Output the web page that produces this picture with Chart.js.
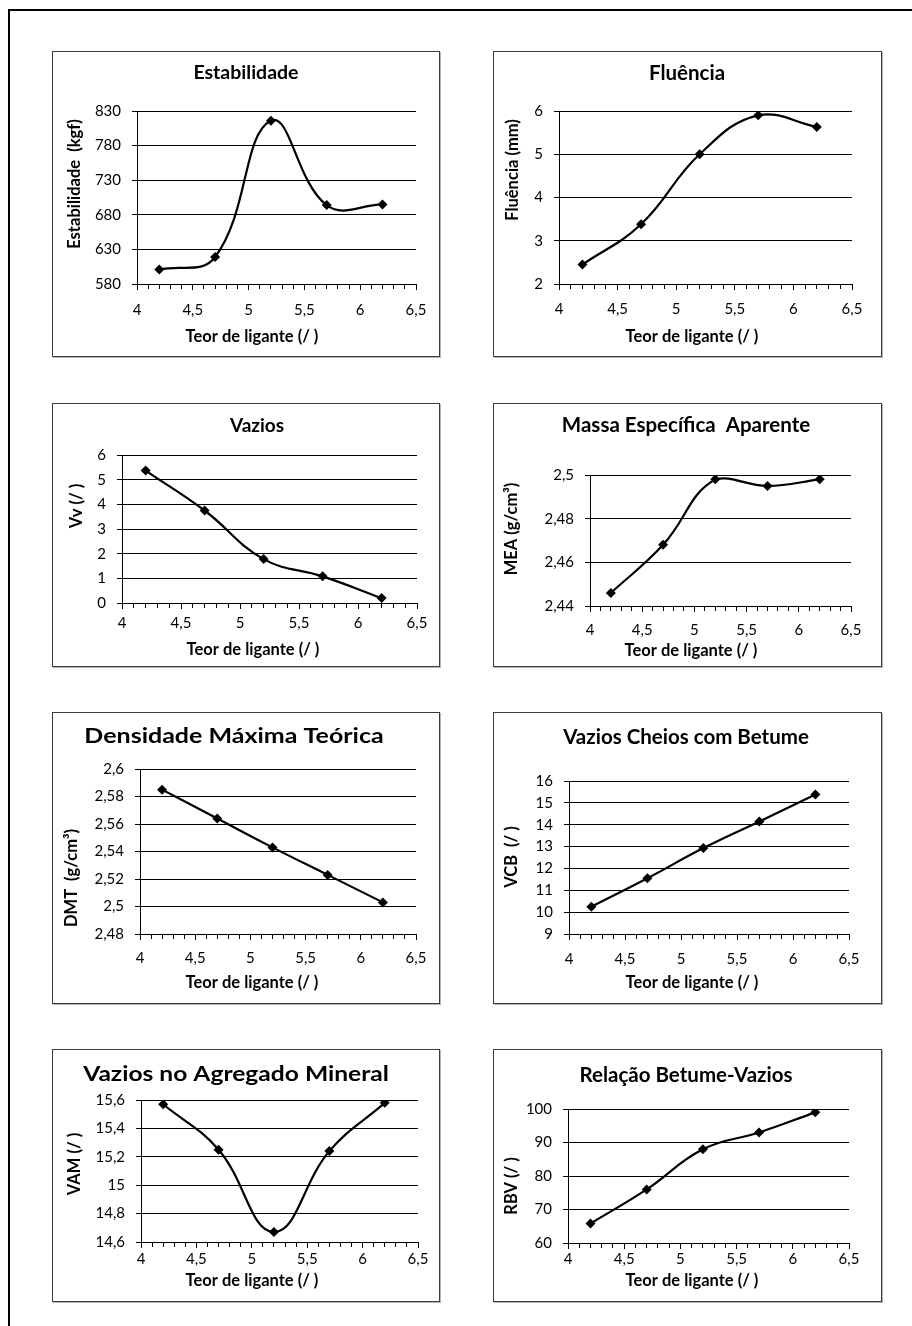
<!DOCTYPE html>
<html>
<head>
<meta charset="utf-8">
<script src="https://cdn.jsdelivr.net/npm/chart.js@4.4.1/dist/chart.umd.min.js"></script>
<style>
  html, body { margin: 0; padding: 0; background: #fff; width: 912px; height: 1326px; overflow: hidden; }
  #frame { position: absolute; left: 8px; top: 9px; width: 1000px; height: 1400px;
           border-left: 2px solid #000; border-top: 2px solid #000; }
  .panel { position: absolute; box-sizing: border-box; border: 1px solid #3c3c3c; background: #fff;
           box-shadow: 1px 1px 0 #b4b4b4; }
  .panel canvas { display: block; }
</style>
</head>
<body>
<div id="frame"></div>
<div id="page"></div>
<script>
// Teor de ligante (%) tested
const teor = [4.2, 4.7, 5.2, 5.7, 6.2];

// Measured properties for each binder content
const estabilidade = [601, 619, 816, 694, 695];
const fluencia     = [2.45, 3.38, 5.0, 5.9, 5.63];
const vaziosVv     = [5.37, 3.75, 1.78, 1.08, 0.2];
const mea          = [2.446, 2.468, 2.498, 2.495, 2.498];
const dmt          = [2.585, 2.564, 2.543, 2.523, 2.503];
const vcb          = [10.25, 11.55, 12.93, 14.15, 15.38];
const vam          = [15.57, 15.25, 14.67, 15.24, 15.58];
const rbv          = [65.8, 76, 88, 93, 99];

// Axis ranges: [min, max, step]
const xRange = [4, 6.5, 0.1];
const yRanges = [
  [580, 830, 50],
  [2, 6, 1],
  [0, 6, 1],
  [2.44, 2.5, 0.02],
  [2.48, 2.6, 0.02],
  [9, 16, 1],
  [14.6, 15.6, 0.2],
  [60, 100, 10]
];

const titles = [
  'Estabilidade', 'Fluência', 'Vazios', 'Massa Específica  Aparente',
  'Densidade Máxima Teórica', 'Vazios Cheios com Betume',
  'Vazios no Agregado Mineral', 'Relação Betume-Vazios'
];
const xTitle = 'Teor de ligante (/ )';
const yTitles = [
  'Estabilidade  (kgf)', 'Fluência (mm)', 'Vv (/ )', 'MEA (g/cm³)',
  'DMT  (g/cm³)', 'VCB  (/ )', 'VAM (/ )', 'RBV (/ )'
];
const seriesList = [estabilidade, fluencia, vaziosVv, mea, dmt, vcb, vam, rbv];

// Page layout of each panel (page pixels); tf = title font size, ts = title horizontal stretch
const layouts = [
  { box: [52, 51, 440, 357],   plot: [137, 111, 416, 284],   title: [246, 73],   tf: 19.5, ts: 1,    xt: [252, 337],  yt: [75, 184],   lab: 26 },
  { box: [493, 51, 882, 357],  plot: [559, 111, 852, 284],   title: [687, 73],   tf: 20.5, ts: 1,    xt: [692, 337],  yt: [513, 170],  lab: 25 },
  { box: [52, 403, 440, 667],  plot: [122, 455, 417, 603],   title: [257, 426],  tf: 19,   ts: 1,    xt: [253, 650],  yt: [77, 506],   lab: 20 },
  { box: [493, 403, 882, 667], plot: [590, 475, 851, 606],   title: [686, 425],  tf: 20.5, ts: 1,    xt: [691, 651],  yt: [512, 529],  lab: 24 },
  { box: [52, 712, 440, 1004], plot: [140, 769, 416, 934],   title: [234, 737],  tf: 20,   ts: 1.25, xt: [252, 983],  yt: [72, 878],   lab: 24 },
  { box: [493, 712, 882, 1004],plot: [569, 781, 849, 934],   title: [686, 737],  tf: 20.5, ts: 1,    xt: [692, 983],  yt: [512, 857],  lab: 25 },
  { box: [52, 1049, 440, 1302],plot: [141, 1100, 418, 1242], title: [236, 1075], tf: 20,   ts: 1.23, xt: [252, 1281], yt: [75, 1164],  lab: 17 },
  { box: [493, 1049, 882, 1302],plot:[568, 1109, 849, 1243], title: [686, 1075], tf: 20.5, ts: 1,    xt: [692, 1281], yt: [512, 1186], lab: 16 }
];

const FONT = 'Lato, "Open Sans", sans-serif';
const TICK_SIZE = 15;

function fmt(v) {
  return String(Number(v.toFixed(4))).replace('.', ',');
}

function isHalf(v) {
  return Math.abs(v * 2 - Math.round(v * 2)) < 1e-6;
}

// Draws the panel title and both axis titles at fixed spots
const panelText = {
  id: 'panelText',
  afterDraw(chart, args, o) {
    const ctx = chart.ctx;
    ctx.save();
    ctx.fillStyle = '#000';
    ctx.textAlign = 'center';
    ctx.textBaseline = 'middle';

    ctx.save();
    ctx.font = 'bold ' + o.titleSize + 'px ' + FONT;
    ctx.translate(o.titleX, o.titleY);
    ctx.scale(o.titleStretch, 1);
    ctx.fillText(o.title, 0, 0);
    ctx.restore();

    ctx.font = 'bold 16.5px ' + FONT;
    ctx.fillText(o.xTitle, o.xTitleX, o.xTitleY);
    ctx.translate(o.yTitleX, o.yTitleY);
    ctx.rotate(-Math.PI / 2);
    ctx.fillText(o.yTitle, 0, 0);
    ctx.restore();
  }
};

const page = document.getElementById('page');

layouts.forEach((L, i) => {
  const [bl, bt, br, bb] = L.box;
  const div = document.createElement('div');
  div.className = 'panel';
  div.style.left = bl + 'px';
  div.style.top = bt + 'px';
  div.style.width = (br - bl) + 'px';
  div.style.height = (bb - bt) + 'px';
  const cw = br - bl - 2, ch = bb - bt - 2;
  const canvas = document.createElement('canvas');
  canvas.width = cw; canvas.height = ch;
  canvas.style.width = cw + 'px'; canvas.style.height = ch + 'px';
  div.appendChild(canvas);
  page.appendChild(div);

  const ox = bl + 1, oy = bt + 1;
  const pl = L.plot[0] - ox, pt = L.plot[1] - oy, pr = L.plot[2] - ox, pb = L.plot[3] - oy;
  const [ymin, ymax, ystep] = yRanges[i];
  const tickLen = 6;
  const lineH = TICK_SIZE * 1.2;

  new Chart(canvas, {
    type: 'line',
    data: {
      datasets: [{
        data: teor.map((x, k) => ({ x, y: seriesList[i][k] })),
        borderColor: '#000',
        backgroundColor: '#000',
        borderWidth: 2.2,
        tension: 0.42,
        pointStyle: 'rectRot',
        pointRadius: 5,
        pointBorderWidth: 0,
        pointBackgroundColor: '#000',
        fill: false
      }]
    },
    options: {
      responsive: false,
      animation: false,
      events: [],
      layout: { padding: { top: pt, right: cw - pr, bottom: 0, left: 0 } },
      plugins: {
        legend: { display: false },
        title: { display: false },
        tooltip: { enabled: false },
        panelText: {
          title: titles[i], titleSize: L.tf, titleStretch: L.ts,
          titleX: L.title[0] - ox, titleY: L.title[1] - oy,
          xTitle: xTitle, xTitleX: L.xt[0] - ox, xTitleY: L.xt[1] - oy,
          yTitle: yTitles[i], yTitleX: L.yt[0] - ox, yTitleY: L.yt[1] - oy
        }
      },
      scales: {
        x: {
          type: 'linear',
          min: xRange[0], max: xRange[1],
          border: { display: true, color: '#000', width: 1 },
          grid: {
            drawOnChartArea: false, drawTicks: true, tickLength: tickLen, color: '#000', lineWidth: 1,
            // minor marks every 0.1 are drawn shorter than the major ones
            tickBorderDash: (c) => (c.tick && isHalf(c.tick.value)) ? [] : [4, 30]
          },
          ticks: {
            stepSize: xRange[2],
            autoSkip: false,
            maxRotation: 0,
            padding: L.lab - tickLen - lineH / 2,
            color: '#000',
            font: { family: FONT, size: TICK_SIZE },
            callback: (v) => isHalf(v) ? fmt(Math.round(v * 2) / 2) : ''
          },
          afterFit: (s) => { s.height = ch - pb; }
        },
        y: {
          type: 'linear',
          min: ymin, max: ymax,
          border: { display: true, color: '#000', width: 1 },
          grid: { drawOnChartArea: true, drawTicks: true, tickLength: 5, color: '#000', lineWidth: 1 },
          ticks: {
            stepSize: ystep,
            padding: 11,
            color: '#000',
            font: { family: FONT, size: TICK_SIZE },
            callback: (v) => fmt(v)
          },
          afterFit: (s) => { s.width = pl; }
        }
      }
    },
    plugins: [panelText]
  });
});
</script>
</body>
</html>
